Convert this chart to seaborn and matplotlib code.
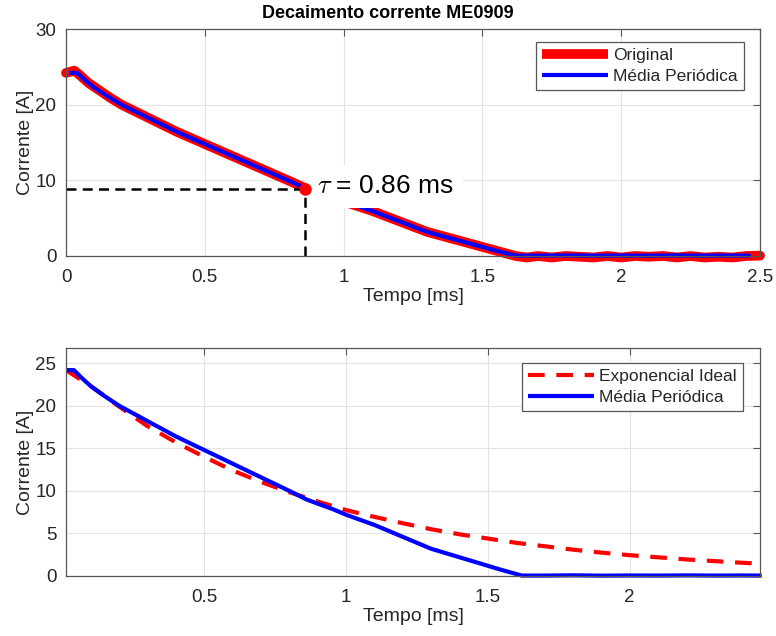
# Decaimento da corrente - recriação do gráfico MATLAB com seaborn
import matplotlib
matplotlib.use("Agg")
import matplotlib.pyplot as plt
import seaborn as sns
import pandas as pd

# --- dados ---
tempo_media = [0.012, 0.04, 0.07, 0.10, 0.15, 0.20, 0.25, 0.30, 0.35, 0.40, 0.45,
               0.50, 0.55, 0.60, 0.65, 0.70, 0.75, 0.80, 0.86, 0.90, 0.95, 1.00,
               1.05, 1.10, 1.15, 1.20, 1.25, 1.30, 1.35, 1.40, 1.45, 1.50, 1.55,
               1.62, 1.70, 1.80, 1.90, 2.00, 2.10, 2.20, 2.30, 2.40, 2.466]
corrente_media = [24.2, 24.2, 23.2, 22.3, 21.1, 20.0, 19.1, 18.2, 17.3, 16.4, 15.6,
                  14.8, 14.0, 13.2, 12.4, 11.6, 10.8, 10.0, 9.0, 8.5, 7.9, 7.2,
                  6.6, 6.0, 5.3, 4.6, 3.9, 3.2, 2.7, 2.2, 1.7, 1.2, 0.7,
                  0.05, 0.05, 0.08, 0.04, 0.06, 0.05, 0.07, 0.05, 0.06, 0.05]

tempo_orig = [0.0, 0.01, 0.03, 0.05, 0.08, 0.12, 0.16, 0.20, 0.25, 0.30, 0.35,
              0.40, 0.45, 0.50, 0.55, 0.60, 0.65, 0.70, 0.75, 0.80, 0.86, 0.90,
              0.95, 1.00, 1.05, 1.10, 1.15, 1.20, 1.25, 1.30, 1.35, 1.40, 1.45,
              1.50, 1.55, 1.62, 1.66, 1.70, 1.75, 1.80, 1.85, 1.90, 1.95, 2.00,
              2.05, 2.10, 2.15, 2.20, 2.25, 2.30, 2.35, 2.40, 2.45, 2.50]
corrente_orig = [24.2, 24.3, 24.5, 23.9, 22.9, 21.9, 20.9, 20.0, 19.1, 18.2, 17.3,
                 16.4, 15.6, 14.8, 14.0, 13.2, 12.4, 11.6, 10.8, 10.0, 9.0, 8.5,
                 7.9, 7.2, 6.6, 6.0, 5.3, 4.6, 3.9, 3.2, 2.7, 2.2, 1.7,
                 1.2, 0.7, 0.0, -0.2, 0.0, -0.2, 0.0, -0.1, -0.2, 0.0, -0.2,
                 0.0, -0.1, 0.0, -0.2, 0.0, -0.2, -0.1, -0.2, 0.0, 0.05]

tempo_ideal = [0.012, 0.10, 0.20, 0.30, 0.40, 0.50, 0.60, 0.70, 0.80, 0.90, 1.00,
               1.10, 1.20, 1.30, 1.40, 1.50, 1.60, 1.70, 1.80, 1.90, 2.00, 2.10,
               2.20, 2.30, 2.40, 2.46]
corrente_ideal = [24.2, 22.3, 19.9, 17.6, 15.7, 14.0, 12.4, 11.05, 9.85, 8.75, 7.75,
                  6.95, 6.2, 5.5, 4.9, 4.4, 3.9, 3.5, 3.1, 2.75, 2.45, 2.2,
                  1.95, 1.75, 1.55, 1.45]

tau = 0.86
corrente_tau = 8.9
titulo = "Decaimento corrente ME0909"

df_media = pd.DataFrame({"t": tempo_media, "i": corrente_media})
df_orig = pd.DataFrame({"t": tempo_orig, "i": corrente_orig})
df_ideal = pd.DataFrame({"t": tempo_ideal, "i": corrente_ideal})

sns.set_style("whitegrid")
plt.rcParams["font.family"] = ["Liberation Sans", "DejaVu Sans"]
plt.rcParams["mathtext.fontset"] = "cm"

fig = plt.figure(figsize=(7.76, 6.36), dpi=100)
ax1 = fig.add_axes([66/776, 1-256/636, 694/776, 227/636])
ax2 = fig.add_axes([66/776, 1-576/636, 694/776, 228/636])

eixo_cor = "#555555"

def estilo(ax):
    ax.grid(True, color="#e3e3e3", linewidth=0.8)
    for s in ax.spines.values():
        s.set_color(eixo_cor)
        s.set_linewidth(0.9)
        s.set_zorder(10)
    ax.tick_params(direction="in", length=5, width=0.8, color=eixo_cor,
                   labelsize=13.5, labelcolor="#262626", top=True, right=True)
    ax.tick_params(axis="x", pad=9)
    ax.tick_params(axis="y", pad=7)
    ax.set_xlabel("Tempo [ms]", fontsize=14, color="#262626", labelpad=2)
    ax.set_ylabel("Corrente [A]", fontsize=14, color="#262626", labelpad=1)

def legenda(ax, anchor):
    leg = ax.legend(loc="upper right", bbox_to_anchor=anchor,
                    borderaxespad=0, fontsize=12.5, frameon=True, fancybox=False,
                    edgecolor=eixo_cor, handlelength=3.8, handletextpad=0.3,
                    borderpad=0.35, labelspacing=0.3)
    leg.get_frame().set_linewidth(0.9)
    leg.get_frame().set_alpha(1)
    leg.set_zorder(20)
    for ln in leg.get_lines():
        ln.set_solid_capstyle("butt")
    return leg

# --- subplot superior ---
sns.lineplot(data=df_orig, x="t", y="i", ax=ax1, color="red", linewidth=7,
             solid_capstyle="round", solid_joinstyle="round", label="Original",
             sort=False, estimator=None, clip_on=False)
sns.lineplot(data=df_media, x="t", y="i", ax=ax1, color="blue", linewidth=3,
             solid_capstyle="butt", label="Média Periódica", sort=False,
             estimator=None, clip_on=False)
ax1.plot([0, tau], [corrente_tau, corrente_tau], "k--", linewidth=1.8, dashes=(4, 2.5))
ax1.plot([tau, tau], [0, corrente_tau], "k--", linewidth=1.8, dashes=(4, 2.5))
ax1.text(0.905, 9.2, r"$\tau$ = 0.86 ms", fontsize=19, va="center",
         ha="left", color="black", zorder=5,
         bbox=dict(facecolor="white", edgecolor="none", pad=7))
ax1.plot([tau], [corrente_tau], "o", color="red", markersize=8, zorder=6)
ax1.set_xlim(0, 2.5)
ax1.set_ylim(0, 30)
ax1.set_xticks([0, 0.5, 1, 1.5, 2, 2.5])
ax1.set_xticklabels(["0", "0.5", "1", "1.5", "2", "2.5"])
ax1.set_yticks([0, 10, 20, 30])
estilo(ax1)
legenda(ax1, (1-16/694, 1-13/227))

# --- subplot inferior ---
sns.lineplot(data=df_ideal, x="t", y="i", ax=ax2, color="red", linewidth=3,
             linestyle=(0, (4, 2.8)), label="Exponencial Ideal",
             sort=False, estimator=None)
sns.lineplot(data=df_media, x="t", y="i", ax=ax2, color="blue", linewidth=3,
             solid_capstyle="butt", label="Média Periódica", sort=False,
             estimator=None, clip_on=False)
ax2.set_xlim(0.012, 2.46)
ax2.set_ylim(0, 26.8)
ax2.set_xticks([0.5, 1, 1.5, 2])
ax2.set_xticklabels(["0.5", "1", "1.5", "2"])
ax2.set_yticks([0, 5, 10, 15, 20, 25])
estilo(ax2)
legenda(ax2, (1-17/694, 1-15/228))

fig.text(0.5, 1-14/636, titulo, ha="center", va="center", fontsize=13,
         fontweight="bold", color="black")

fig.savefig("out.png", dpi=100)
